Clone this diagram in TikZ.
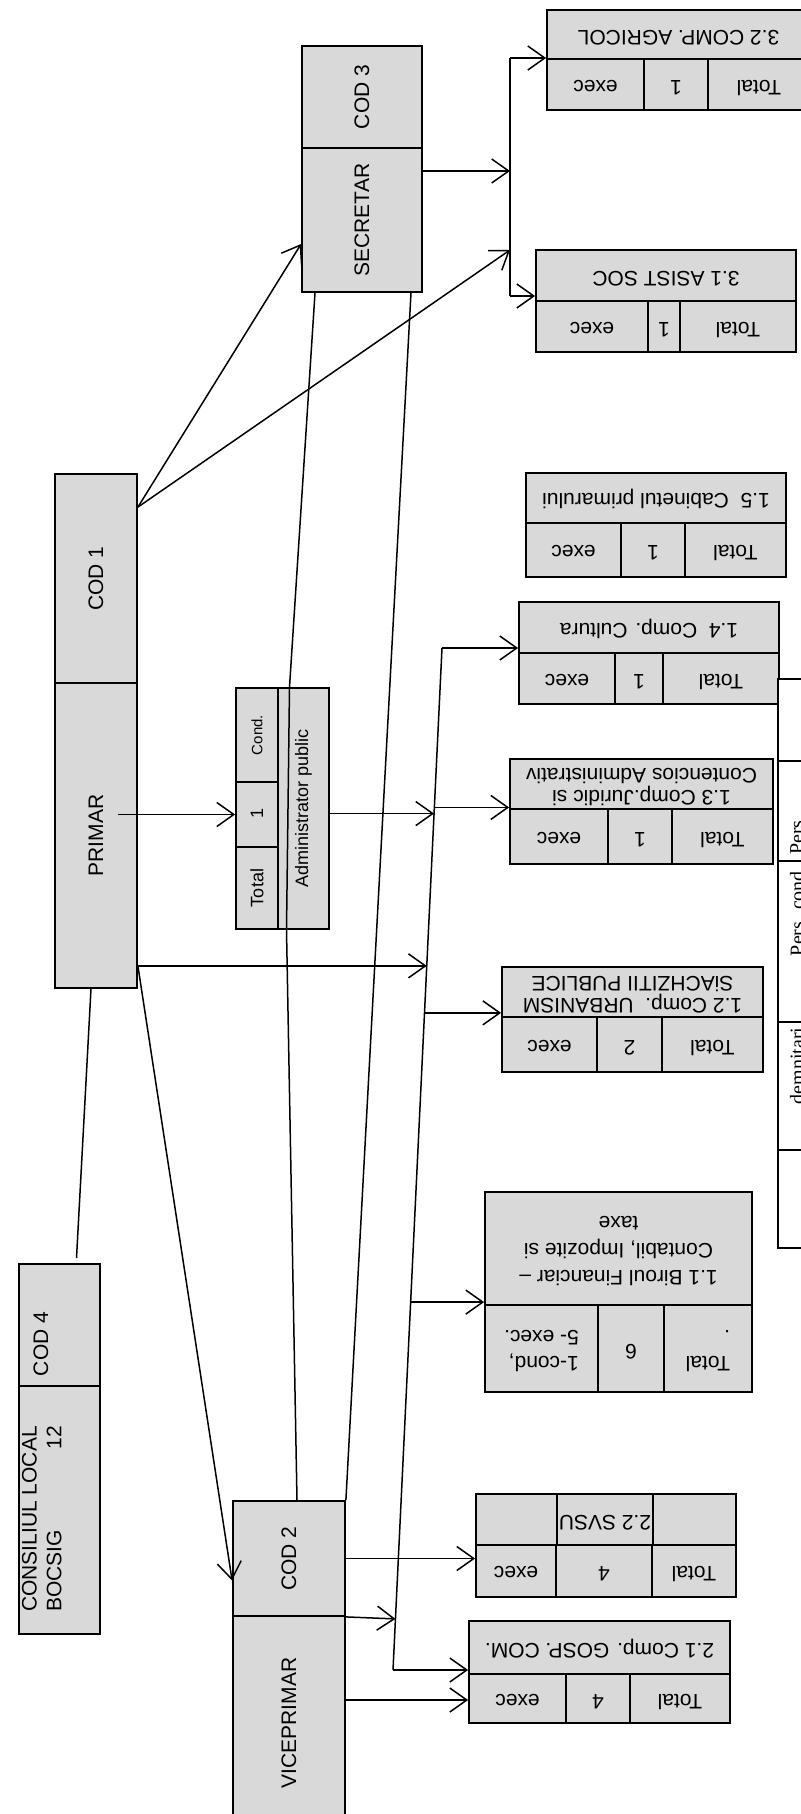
\documentclass[tikz,border=0pt]{standalone}
\usepackage{fontspec}
\usepackage{graphicx}
\setmainfont{Liberation Sans}
\newfontfamily\timesfont{Liberation Serif}
\usetikzlibrary{arrows.meta,calc}

% box from its corners: style, x1, y1, x2, y2, name
\newcommand{\cellat}[6]{\node[#1, minimum width={(#4-#2)*1pt}, minimum height={(#5-#3)*1pt}] (#6) at ({(#2+#4)/2},{(#3+#5)/2})}
% turned texts
\newcommand{\vtext}[1]{\rotatebox[origin=c]{90}{#1}}
\newcommand{\udtext}[1]{\rotatebox[origin=c]{180}{\begin{tabular}{@{}c@{}}#1\end{tabular}}}
\newcommand{\udltext}[1]{\rotatebox[origin=c]{180}{\begin{tabular}{@{}l@{}}#1\end{tabular}}}

\begin{document}
\begin{tikzpicture}[
        x=1pt, y=-1pt,
        txt/.style={font=\fontsize{21}{22}\selectfont},
        boxcell/.style={draw, fill=gray!30, line width=1.8pt, inner sep=0pt, txt},
        tabcell/.style={draw, fill=white, line width=1.8pt, inner sep=0pt},
        tmstxt/.style={font=\timesfont\fontsize{20}{22}\selectfont, inner sep=0pt},
        conn/.style={line width=1.5pt},
        arrow/.style={conn, -{Straight Barb[length=17pt, width=24pt]}}
    ]
    \useasboundingbox (0,0) rectangle (800,1814);

    % main boxes
    \cellat{boxcell}{302}{46}{422}{148}{cod3} {\vtext{COD 3}};
    \cellat{boxcell}{302}{148}{422}{292}{sec} {\vtext{SECRETAR}};
    \cellat{boxcell}{55}{474}{137}{683}{cod1} {\vtext{COD 1}};
    \cellat{boxcell}{55}{683}{137}{988}{pri} {\vtext{PRIMAR}};
    \cellat{boxcell}{19}{1264}{100}{1386}{cod4} {};
    \cellat{boxcell}{19}{1386}{100}{1634}{cons} {};
    \node[txt, inner sep=0pt] (cod4t) at (41,1344) {\vtext{COD 4}};
    \node[font=\fontsize{21}{25}\selectfont, inner sep=0pt] (const) at (44,1519)
        {\vtext{\begin{tabular}{@{}l@{}}CONSILIUL LOCAL\\BOCSIG\hfill 12\end{tabular}}};
    \cellat{boxcell}{233}{1501}{345}{1616}{cod2} {\vtext{COD 2}};
    \cellat{boxcell}{233}{1616}{345}{1830}{vice} {\vtext{VICEPRIMAR}};

    % administrator public
    \cellat{boxcell, font=\fontsize{15}{17}\selectfont}{236}{688}{278}{782}{cond} {\vtext{Cond.}};
    \cellat{boxcell, font=\fontsize{18}{20}\selectfont}{236}{782}{278}{847}{one} {\vtext{1}};
    \cellat{boxcell, font=\fontsize{18}{20}\selectfont}{236}{847}{278}{929}{tot} {\vtext{Total}};
    \cellat{boxcell, font=\fontsize{18}{20}\selectfont}{278}{688}{329}{929}{adm} {\vtext{Administrator public}};

    % compartimente
    \cellat{boxcell}{547}{10}{810}{59}{d32t} {\udtext{3.2 COMP. AGRICOL}};
    \cellat{boxcell}{547}{59}{644}{110}{d32a} {\udtext{exec}};
    \cellat{boxcell}{644}{59}{708}{110}{d32b} {\udtext{1}};
    \cellat{boxcell}{708}{59}{810}{110}{d32c} {\udtext{Total}};

    \cellat{boxcell}{536}{250}{796}{301}{d31t} {\udtext{3.1 ASIST SOC}};
    \cellat{boxcell}{536}{301}{648}{352}{d31a} {\udtext{exec}};
    \cellat{boxcell}{648}{301}{680}{352}{d31b} {\udtext{1}};
    \cellat{boxcell}{680}{301}{796}{352}{d31c} {\udtext{Total}};

    \cellat{boxcell}{526}{473}{786}{523}{d15t} {\udtext{1.5\ \ Cabinetul primarului}};
    \cellat{boxcell}{526}{523}{621}{577}{d15a} {\udtext{exec}};
    \cellat{boxcell}{621}{523}{685}{577}{d15b} {\udtext{1}};
    \cellat{boxcell}{685}{523}{786}{577}{d15c} {\udtext{Total}};

    \cellat{boxcell}{519}{602}{779}{653}{d14t} {\udtext{1.4\ \ Comp. Cultura}};
    \cellat{boxcell}{519}{653}{615}{704}{d14a} {\udtext{exec}};
    \cellat{boxcell}{615}{653}{663}{704}{d14b} {\udtext{1}};
    \cellat{boxcell}{663}{653}{779}{704}{d14c} {\udtext{Total}};

    \cellat{boxcell}{510}{759}{773}{809}{d13t} {\udtext{1.3 Comp.Juridic si\\Contencios Administrativ}};
    \cellat{boxcell}{510}{809}{608}{864}{d13a} {\udtext{exec}};
    \cellat{boxcell}{608}{809}{672}{864}{d13b} {\udtext{1}};
    \cellat{boxcell}{672}{809}{773}{864}{d13c} {\udtext{Total}};

    \cellat{boxcell}{502}{967}{763}{1017}{d12t} {\udtext{1.2 Comp.\ \ URBANISM\\SiACHZITII PUBLICE}};
    \cellat{boxcell}{502}{1017}{597}{1072}{d12a} {\udtext{exec}};
    \cellat{boxcell}{597}{1017}{662}{1072}{d12b} {\udtext{2}};
    \cellat{boxcell}{662}{1017}{763}{1072}{d12c} {\udtext{Total}};

    \cellat{boxcell, font=\fontsize{21}{27}\selectfont}{485}{1192}{752}{1305}{d11t} {\udtext{1.1 Biroul Financiar –\\Contabil, Impozite si\\taxe}};
    \cellat{boxcell, font=\fontsize{21}{26}\selectfont}{485}{1305}{598}{1392}{d11a} {\udltext{1-cond,\\5- exec.}};
    \cellat{boxcell}{598}{1305}{664}{1392}{d11b} {\udtext{6}};
    \cellat{boxcell, font=\fontsize{21}{26}\selectfont}{664}{1305}{752}{1392}{d11c} {\udltext{Total\\.}};

    \cellat{boxcell}{476}{1494}{557}{1545}{d22t} {};
    \cellat{boxcell}{557}{1494}{653}{1545}{d22u} {\udtext{2.2 SVSU}};
    \cellat{boxcell}{653}{1494}{736}{1545}{d22v} {};
    \cellat{boxcell}{476}{1545}{556}{1597}{d22a} {\udtext{exec}};
    \cellat{boxcell}{556}{1545}{652}{1597}{d22b} {\udtext{4}};
    \cellat{boxcell}{652}{1545}{736}{1597}{d22c} {\udtext{Total}};

    \cellat{boxcell}{469}{1621}{730}{1674}{d21t} {\udtext{2.1 Comp. GOSP. COM.}};
    \cellat{boxcell}{469}{1674}{566}{1723}{d21a} {\udtext{exec}};
    \cellat{boxcell}{566}{1674}{630}{1723}{d21b} {\udtext{4}};
    \cellat{boxcell}{630}{1674}{730}{1723}{d21c} {\udtext{Total}};

    % legenda
    \cellat{tabcell}{778}{679}{830}{761}{lg1} {};
    \cellat{tabcell}{778}{761}{830}{861}{lg2} {};
    \cellat{tabcell}{778}{861}{830}{1022}{lg3} {};
    \cellat{tabcell}{778}{1022}{830}{1150}{lg4} {};
    \cellat{tabcell}{778}{1150}{830}{1248}{lg5} {};
    \node[tmstxt] (lg2t) at (797,835) {\vtext{Pers.}};
    \node[tmstxt] (lg3t) at (797,911) {\vtext{Pers. cond.}};
    \node[tmstxt] (lg4t) at (797,1066) {\vtext{demnitari}};

    % secretar
    \coordinate (b3t) at (510,58);
    \coordinate (b3b) at (510,296);
    \coordinate (b3s) at (510,171);
    \coordinate (b3p) at (510,250);
    \draw[conn] (b3t) -- (b3b);
    \draw[arrow] (sec.east |- b3s) -- (b3s);
    \draw[arrow] (b3t) -- (b3t -| d32t.west);
    \draw[arrow] (b3b) -- (b3b -| d31t.west);
    \draw[arrow] ([yshift=-34pt]cod1.north east) -- ([yshift=-24pt]sec.west);
    \draw[arrow] ([yshift=-34pt]cod1.north east) -- (b3p);
    \draw[conn] ([xshift=-47pt]sec.south) -- ([xshift=-14pt]adm.north) -- ([xshift=-17pt]adm.south) -- ([xshift=8pt]cod2.north);
    \draw[conn] ([xshift=49pt]sec.south) -- (cod2.north east);

    % primar
    \coordinate (b1t) at (442,648);
    \coordinate (b1b) at (393,1670);
    \coordinate (p13) at ($(b1t)!0.156!(b1b)$);
    \coordinate (pa) at ($(b1t)!0.162!(b1b)$);
    \coordinate (pp) at ($(b1t)!0.311!(b1b)$);
    \coordinate (p12) at ($(b1t)!0.357!(b1b)$);
    \coordinate (p11) at ($(b1t)!0.640!(b1b)$);
    \coordinate (pv) at ($(b1t)!0.950!(b1b)$);
    \draw[conn] (b1t) -- (b1b);
    \draw[arrow] ([xshift=-20pt]pri.east |- one.west) -- (one.west);
    \draw[arrow] (adm.east |- pa) -- (pa);
    \draw[arrow] (pri.east |- pp) -- (pp);
    \draw[arrow] (pri.east |- pp) -- ([yshift=-22pt]cod2.west);
    \draw[arrow] (b1t) -- (b1t -| d14t.west);
    \draw[arrow] (p13) -- (p13 -| d13t.west);
    \draw[arrow] (p12) -- (p12 -| d12t.west);
    \draw[arrow] (p11) -- (p11 -| d11t.west);
    \draw[arrow] (b1b) -- (b1b -| d21t.west);
    \draw[conn] ([xshift=-5pt]pri.south) -- ([xshift=17pt, yshift=5pt]cod4.north);

    % viceprimar
    \draw[arrow] (cod2.south east) -- (pv);
    \draw[arrow] (cod2.east) -- (cod2.east -| d22a.west);
    \draw[arrow] ([yshift=23pt]vice.east) -- ([yshift=23pt]vice.east -| d21a.west);
\end{tikzpicture}
\end{document}
